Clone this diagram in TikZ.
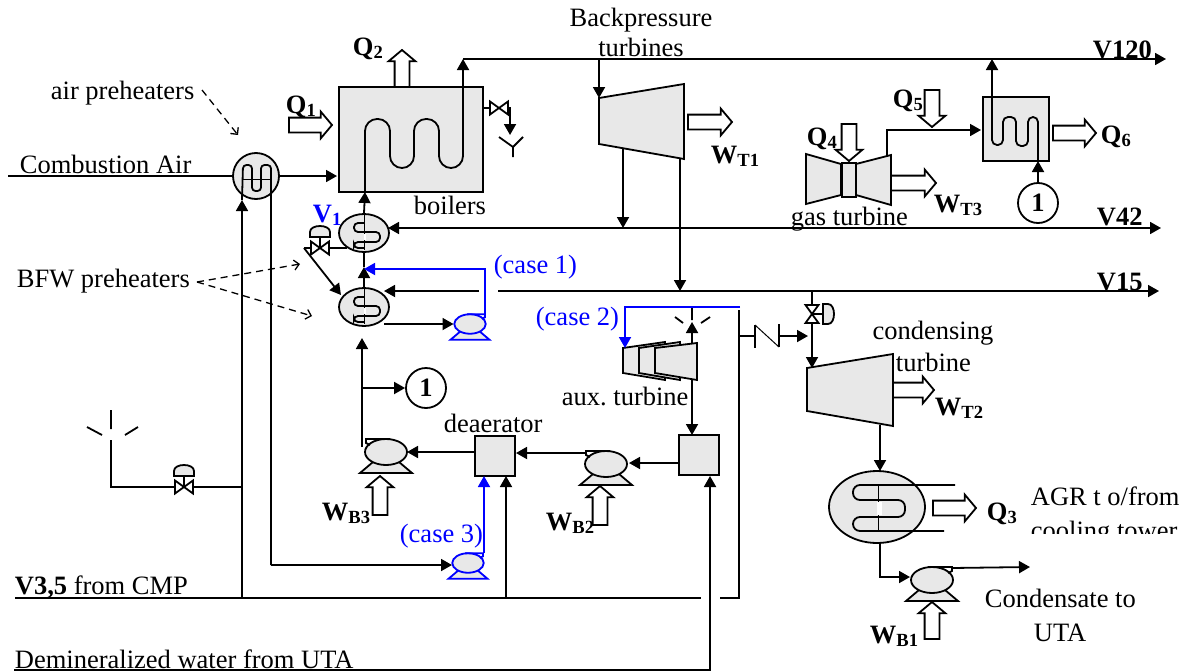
\documentclass[tikz,border=0pt]{standalone}
\usepackage{fontspec}
\setmainfont{Liberation Serif}
\usetikzlibrary{arrows.meta,shapes.geometric,shapes.arrows}
\newcommand{\bodyfont}{\fontsize{26.5}{28}\selectfont\frenchspacing}
\definecolor{unitgray}{gray}{0.91}
\tikzset{
  unit/.style={draw, fill=unitgray},
  txt/.style={anchor=base west, inner sep=0pt, font=\bodyfont},
  ctxt/.style={anchor=base, inner sep=0pt, font=\bodyfont},
  lab/.style={anchor=base west, inner sep=0pt, font=\bodyfont\bfseries},
  heater/.style={unit, ellipse, minimum width=50pt, minimum height=38pt, inner sep=0pt},
  tank/.style={unit, rectangle, minimum width=40pt, minimum height=40pt, inner sep=0pt},
  refnum/.style={draw, fill=white, circle, minimum size=40pt, inner sep=0pt, font=\bodyfont\bfseries},
  hollow/.style={draw, fill=white, single arrow, inner sep=6.5pt, outer sep=0pt, anchor=tail,
    single arrow head extend=6pt, single arrow tip angle=100, minimum height=#1},
  pointer/.style={dash pattern=on 7pt off 5pt, line width=1.3pt, -{Straight Barb[length=5pt]}},
  pics/pump/.style={code={
    \draw[unit] (-26,21) -- (26,21) -- (13,10) -- (-13,10) -- cycle;
    \draw[unit] (0,0) circle[x radius=21pt, y radius=13pt];
    \draw (-4,-13) -- (20,-13) -- (20,-9) -- (16,-7);
    \coordinate (-out) at (20,-12);
    \coordinate (-in) at (-22,0);
  }},
  pics/bowtie/.style={code={
    \draw[fill=white] (-9,-6.5) -- (9,6.5) -- (9,-6.5) -- (-9,6.5) -- cycle;
    \coordinate (-w) at (-9,0);
    \coordinate (-e) at (9,0);
  }},
  pics/ctrlvalve/.style={code={
    \draw (0,0) -- (0,-11);
    \draw[unit] (-10,-11) -- (-10,-16) .. controls (-10,-24) and (10,-24) .. (10,-16) -- (10,-11) -- cycle;
    \draw[fill=white] (-9,-6.5) -- (9,6.5) -- (9,-6.5) -- (-9,6.5) -- cycle;
    \coordinate (-w) at (-9,0);
    \coordinate (-e) at (9,0);
  }},
  pics/coil/.style={code={
    \draw[line width=0.7pt] (0,-18) -- (0,17);
    \draw[rounded corners=4pt] (0,-10) -- (-10,-10) -- (-10,-1) -- (16,-1) -- (16,9) -- (-10,9) -- (-10,15) -- (0,15);
    \draw[white, line width=1.5pt] (1,1) -- (1,7);
  }},
}
\begin{document}
\begin{tikzpicture}[x=1pt, y=-1pt, line width=1.8pt, >={Triangle[length=11pt,width=12pt]}]
  \useasboundingbox (0,0) rectangle (1179,672);

  % Boilers
  \node[unit, minimum width=144pt, minimum height=105pt, inner sep=0pt] (boiler) at (411,139.5) {};
  \coordinate (bin) at (365,192);
  \coordinate (header) at (463,59);
  \coordinate (v120end) at (1166,59);
  \draw[rounded corners=12pt] (bin) -- (365,119) -- (390,119) -- (390,168) -- (414,168) -- (414,119) -- (439,119) -- (439,168) -- (463,168) -- (463,130);
  \draw[->] (463,135) -- (463,59);
  \draw[->] (header) -- (v120end);
  \node[hollow=43pt] (q1) at (289,125) {};
  \node[hollow=37pt, rotate=90] (q2) at (402,87) {};
  \node[lab] (tq1) at (285,113) {Q\textsubscript{1}};
  \node[lab] (tq2) at (352,55) {Q\textsubscript{2}};
  \node[txt] (tboil) at (413,214) {boilers};

  % Blowdown and drain
  \pic (vb) at (499,108) {bowtie};
  \coordinate (dtop) at (510,108);
  \coordinate (dtip) at (510,135);
  \coordinate (drain) at (513,147);
  \draw (483,108) -- (vb-w);
  \draw[->] (vb-e) -- (dtop) -- (dtip);
  \draw (499,137) -- (drain) -- (523,137) (drain) -- (513,157);

  % Air preheater
  \node[unit, circle, minimum size=46pt, inner sep=0pt] (aph) at (256,176) {};
  \coordinate (cain) at (8,176);
  \coordinate (bair) at (337,176);
  \coordinate (aphin) at (242,598);
  \coordinate (aphtip) at (242,200);
  \coordinate (p3feed) at (271,565);
  \draw (cain) -- (aph.west);
  \draw[->] (aph.east) -- (bair);
  \draw[->] (aphin) -- (aphtip);
  \draw[rounded corners=3.5pt] (aphtip) -- (243,165) -- (252,165) -- (252,191) -- (261,191) -- (261,165) -- (271,165) -- (p3feed);
  \draw[line width=0.7pt] (242,179) -- (271,179);
  \node[txt] (tair) at (19,173) {Combustion Air};
  \node[txt] (taph) at (50,99) {air preheaters};
  \coordinate (aphd1) at (202,90);
  \coordinate (aphd2) at (238,135);
  \draw[pointer] (aphd1) -- (aphd2);

  % BFW preheaters
  \node[heater] (h1) at (364,233) {};
  \node[heater] (h2) at (364,307) {};
  \pic at (364,233) {coil};
  \pic at (364,307) {coil};
  \node[txt] (tbfw) at (16,287) {BFW preheaters};
  \coordinate (bfwd) at (197,282);
  \coordinate (bfwd1) at (300,264);
  \coordinate (bfwd2) at (312,316);
  \draw[pointer] (bfwd) -- (bfwd1);
  \draw[pointer] (bfwd) -- (bfwd2);
  \coordinate (h2in) at (364,267);
  \draw[->] (h1.north) -- (bin);
  \draw[->] (h2.north) -- (h2in);
  \draw (h2in) -- (h1.south);

  % Valve V1
  \pic (v1) at (320,248) {ctrlvalve};
  \coordinate (v1l) at (304,248);
  \coordinate (h1out) at (347,248);
  \coordinate (h2tip) at (341,295);
  \draw (h1out) -- (v1-e);
  \draw (v1-w) -- (v1l);
  \draw[->] (v1l) -- (h2tip);
  \node[lab, text=blue] (tv1) at (312,222) {V\textsubscript{1}};

  % Steam headers
  \coordinate (v42a) at (388,228);
  \coordinate (v42b) at (1161,228);
  \coordinate (v15a) at (384,291);
  \coordinate (v15gap) at (479,291);
  \coordinate (v15c) at (498,291);
  \coordinate (v15b) at (1159,291);
  \draw[<->] (v42a) -- (v42b);
  \draw[->] (v15gap) -- (v15a);
  \draw[->] (v15c) -- (v15b);
  \node[lab] (tv120) at (1092,58) {V120};
  \node[lab] (tv42) at (1096,225) {V42};
  \node[lab] (tv15) at (1096,290) {V15};

  % Case 1 pump
  \pic[blue, scale=0.75] (p1) at (470,324) {pump};
  \coordinate (c1a) at (485,269);
  \coordinate (c1b) at (364,269);
  \coordinate (h2out) at (384,324);
  \draw[blue, ->] (p1-out) -- (c1a) -- (c1b);
  \draw[->] (h2out) -- (p1-in);
  \node[txt, text=blue] (tc1) at (493,273) {(case 1)};

  % Backpressure turbines
  \draw[unit] (599,98) -- (684,84) -- (684,159) -- (599,144) -- cycle;
  \coordinate (t1in) at (599,59);
  \coordinate (t1tip) at (599,98);
  \coordinate (t1o1) at (623,149);
  \coordinate (t1o2) at (680,158);
  \coordinate (v42t) at (623,228);
  \coordinate (v15t) at (680,291);
  \draw[->] (t1in) -- (t1tip);
  \draw[->] (t1o1) -- (v42t);
  \draw[->] (t1o2) -- (v15t);
  \node[hollow=44pt] (wt1) at (688,122) {};
  \node[ctxt] (tbp1) at (641,26) {Backpressure};
  \node[ctxt] (tbp2) at (641,56) {turbines};
  \node[lab] (twt1) at (710,163) {W\textsubscript{T1}};

  % Gas turbine
  \draw[unit] (806,154) -- (841,164) -- (841,195) -- (806,204) -- cycle;
  \draw[unit] (891,155) -- (856,164) -- (856,195) -- (891,205) -- cycle;
  \node[unit, minimum width=14pt, minimum height=34pt, inner sep=0pt] (gtc) at (849,180) {};
  \node[hollow=37pt, rotate=-90] (q4) at (849,124) {};
  \node[hollow=37pt, rotate=-90] (q5) at (932,90) {};
  \node[hollow=45pt] (wt3) at (891,183) {};
  \node[lab] (tq4) at (806,145) {Q\textsubscript{4}};
  \node[lab] (tq5) at (892,107) {Q\textsubscript{5}};
  \node[lab] (twt3) at (933,212) {W\textsubscript{T3}};
  \node[txt] (tgt) at (790,225) {gas turbine};

  % Heat recovery unit
  \node[unit, minimum width=66pt, minimum height=64pt, inner sep=0pt] (hr) at (1016,129) {};
  \coordinate (gto) at (887,156);
  \coordinate (gtup) at (887,130);
  \coordinate (hrin) at (981,130);
  \coordinate (hrtop) at (992,59);
  \coordinate (hrstart) at (992,130);
  \draw[->] (gto) -- (gtup) -- (hrin);
  \draw[->] (hrstart) -- (hrtop);
  \draw[rounded corners=5pt] (hrstart) -- (992,145) -- (1003,145) -- (1003,117) -- (1016,117) -- (1016,146) -- (1028,146) -- (1028,117) -- (1038,117) -- (1038,161);
  \node[refnum] (n1b) at (1038,203) {1};
  \coordinate (hrb) at (1038,161);
  \draw[->] (n1b) -- (hrb);
  \node[hollow=43pt] (q6) at (1053,133) {};
  \node[lab] (tq6) at (1100,143) {Q\textsubscript{6}};

  % Feed line to the deaerator
  \node[tank] (deaer) at (495,456) {};
  \node[tank] (drum) at (699,455) {};
  \node[txt] (tdea) at (443,432) {deaerator};
  \pic[xscale=-1] (p3) at (386,452) {pump};
  \pic[xscale=-1] (p2) at (606,464) {pump};
  \coordinate (p3t) at (362,447);
  \coordinate (n1j) at (362,388);
  \coordinate (h2b) at (362,338);
  \draw[->] (p3t) -- (h2b);
  \node[refnum] (n1a) at (426,388) {1};
  \draw[->] (n1j) -- (n1a);
  \coordinate (d1) at (475,452);
  \coordinate (p3i) at (407,452);
  \draw[->] (d1) -- (p3i);
  \coordinate (p2o) at (587,453);
  \coordinate (d2) at (516,453);
  \draw[->] (p2o) -- (d2);
  \coordinate (d3) at (679,463);
  \coordinate (p2i) at (629,463);
  \draw[->] (d3) -- (p2i);
  \node[hollow=39pt, rotate=90] (wb3) at (380,515) {};
  \node[hollow=39pt, rotate=90] (wb2) at (600,525) {};
  \node[lab] (twb3) at (321,520) {W\textsubscript{B3}};
  \node[lab] (twb2) at (545,530) {W\textsubscript{B2}};

  % Case 3 pump
  \pic[blue, scale=0.75] (p4) at (468,563) {pump};
  \coordinate (c3a) at (484,553);
  \coordinate (c3b) at (484,476);
  \coordinate (p4i) at (452,565);
  \draw[blue, ->] (c3a) -- (c3b);
  \draw[->] (p3feed) -- (p4i);
  \node[txt, text=blue] (tc3) at (399,542) {(case 3)};

  % Auxiliary turbine
  \draw[unit] (623,348) -- (665,342) -- (665,380) -- (623,373) -- cycle;
  \draw[unit] (639,348) -- (680,342) -- (680,380) -- (639,373) -- cycle;
  \draw[unit] (655,348) -- (697,343) -- (697,380) -- (655,373) -- cycle;
  \coordinate (atop) at (692,343);
  \coordinate (avent) at (692,322);
  \coordinate (abot) at (692,380);
  \coordinate (dtop2) at (692,435);
  \draw[->] (atop) -- (avent);
  \draw[->] (abot) -- (dtop2);
  \draw (692,308) -- (692,320) (675,317) -- (683,323) (710,317) -- (701,323);
  \node[txt] (taux) at (561,405) {aux. turbine};
  \coordinate (c2a) at (740,307);
  \coordinate (c2b) at (625,307);
  \coordinate (c2c) at (625,348);
  \draw[blue, ->] (c2a) -- (c2b) -- (c2c);
  \node[txt, text=blue] (tc2) at (535,325) {(case 2)};

  % Condensing turbine
  \coordinate (cvtop) at (812,291);
  \coordinate (cvtip) at (812,368);
  \coordinate (cvc) at (812,314);
  \pic[rotate=-90] (cv) at (cvc) {ctrlvalve};
  \draw (cvtop) -- (cv-w);
  \draw[->] (cv-e) -- (cvtip);
  \draw[unit] (807,368) -- (893,354) -- (893,426) -- (807,411) -- cycle;
  \node[hollow=41pt] (wt2) at (893,390) {};
  \node[ctxt] (tcon) at (933,339) {condensing};
  \node[txt] (ttur) at (895,371) {turbine};
  \node[lab] (twt2) at (934,415) {W\textsubscript{T2}};

  % Bleed line and check valve
  \coordinate (bltop) at (739,310);
  \coordinate (blbot) at (739,598);
  \coordinate (blj) at (739,336);
  \coordinate (ck1) at (755,336);
  \coordinate (ck2) at (779,336);
  \coordinate (cktip) at (808,336);
  \draw (bltop) -- (blbot) -- (720,598);
  \draw (blj) -- (ck1);
  \draw (755,325) -- (755,348);
  \draw[line width=1pt] (755,325) -- (779,347);
  \draw (779,324) -- (779,347);
  \draw[->] (ck2) -- (cktip);

  % Condenser
  \node[unit, ellipse, minimum width=96pt, minimum height=72pt, inner sep=0pt] (cond) at (877,507) {};
  \coordinate (t2o) at (880,425);
  \coordinate (ctip) at (880,471);
  \draw[->] (t2o) -- (ctip);
  \draw[rounded corners=7pt] (955,485) -- (853,485) -- (853,500) -- (905,500) -- (905,517) -- (853,517) -- (853,531) -- (944,531);
  \draw[line width=0.7pt] (878,485) -- (878,531);
  \draw[white, line width=5pt] (879,502) -- (879,515);
  \node[hollow=43pt] (q3) at (933,508) {};
  \node[lab] (tq3) at (986,520) {Q\textsubscript{3}};
  \node[txt] (tagr) at (1030,505) {AGR t o/from};
  \begin{scope}
    \clip (1000,500) rectangle (1179,533);
    \node[txt] (tcool) at (1030,539) {cooling tower};
  \end{scope}

  % Condensate pump
  \pic (p5) at (932,580) {pump};
  \coordinate (cb) at (880,543);
  \coordinate (cbj) at (880,577);
  \coordinate (p5tip) at (910,577);
  \coordinate (p5end) at (1030,567);
  \draw[->] (cb) -- (cbj) -- (p5tip);
  \draw[->] (p5-out) -- (p5end);
  \node[hollow=37pt, rotate=90] (wb1) at (932,639) {};
  \node[lab] (twb1) at (869,643) {W\textsubscript{B1}};
  \node[txt] (tcnd) at (984,607) {Condensate to};
  \node[txt] (tuta) at (1033,641) {UTA};

  % Vent with valve
  \coordinate (vent) at (111,440);
  \coordinate (ventb) at (111,487);
  \coordinate (ventj) at (243,487);
  \pic (vv) at (184,487) {ctrlvalve};
  \draw (vent) -- (ventb) -- (vv-w);
  \draw (vv-e) -- (ventj);
  \draw (111,410) -- (111,429) (87,427) -- (102,435) (138,427) -- (125,435);

  % Make-up lines
  \coordinate (v35a) at (15,598);
  \coordinate (v35b) at (701,598);
  \coordinate (dmj) at (506,598);
  \coordinate (dmt) at (506,476);
  \draw (v35a) -- (v35b);
  \draw[->] (dmj) -- (dmt);
  \coordinate (uta1) at (14,670);
  \coordinate (uta2) at (710,670);
  \coordinate (uta3) at (710,476);
  \draw[->] (uta1) -- (uta2) -- (uta3);
  \node[txt] (tv35) at (14,594) {\textbf{V3,5} from CMP};
  \node[txt] (tdem) at (14,668) {Demineralized water from UTA};
\end{tikzpicture}
\end{document}
